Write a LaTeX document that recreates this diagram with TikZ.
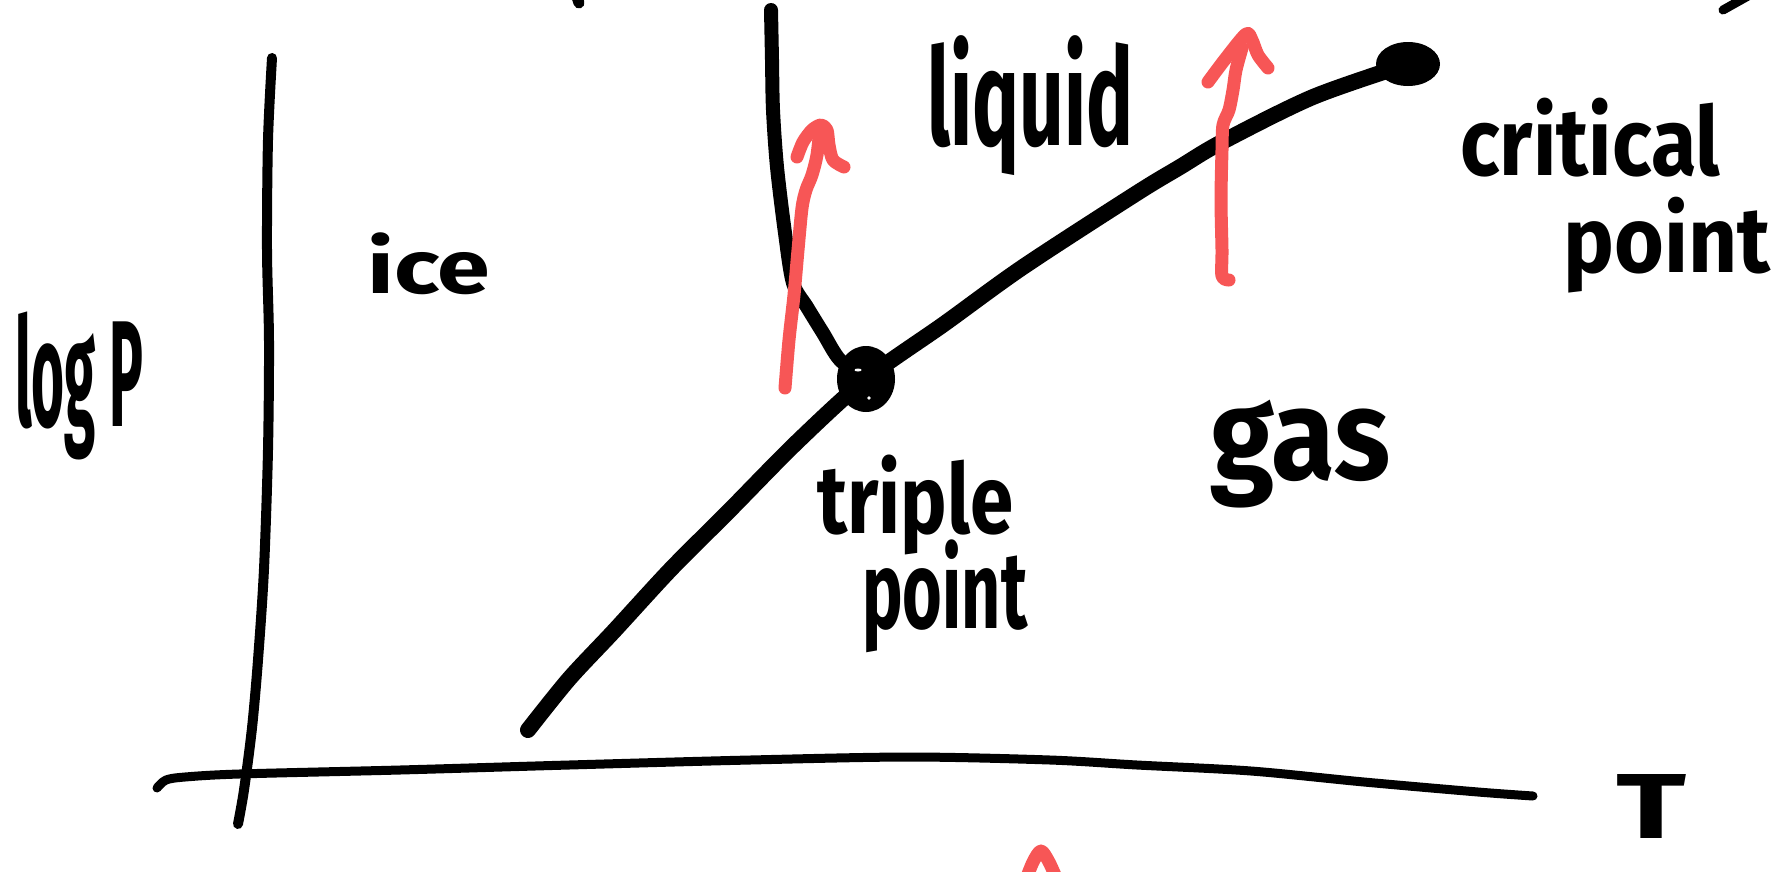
\documentclass[tikz,border=0pt]{standalone}
\usepackage{fontspec}
\setmainfont{Fira Sans}
\usetikzlibrary{shapes.geometric}
\definecolor{redpen}{RGB}{247,86,86}
\tikzset{
  pen/.style={line cap=round, line join=round},
  ink/.style={pen, draw=black, line width=#1},
  redarrow/.style={pen, draw=redpen, line width=13pt},
  hwlabel/.style={inner sep=0pt, anchor=north west, font=\bfseries},
  blob/.style={ellipse, fill=black, inner sep=0pt},
}
\newcommand{\hw}[3]{\resizebox*{#1pt}{#2pt}{#3}}
\begin{document}
\begin{tikzpicture}[x=1pt,y=-1pt]
\fill[white] (0,0) rectangle (1783,871);
\useasboundingbox (0,0) rectangle (1783,871);

% key points
\coordinate (tpc) at (866,379);
\coordinate (cpc) at (1408,64);
\coordinate (sublstart) at (528,730);
\coordinate (fusiontop) at (771,10);

% axes
\draw[ink=10pt] plot[smooth] coordinates {(272,58) (268,140) (267,250) (269,341) (268,450) (264,569) (258,660) (252,728) (244,790) (238,824)};
\draw[ink=9pt] plot[smooth] coordinates {(157,788) (166,780) (185,777) (239,774) (400,770) (569,765) (750,760) (910,757) (1050,760) (1137,765) (1251,771) (1364,782) (1478,792) (1533,796)};

% coexistence curves
\draw[ink=16pt] plot[smooth] coordinates {(sublstart) (569,679) (614,631) (671,569) (728,512) (796,443) (tpc) (944,324) (1023,267) (1137,193) (1180,167) (1222,142) (1313,97) (cpc)};
\draw[ink=14pt] plot[smooth] coordinates {(fusiontop) (772,60) (773,110) (777,167) (785,233) (793,283) (807,307) (823,333) (840,360) (tpc)};

% red arrows
\draw[redarrow] plot[smooth] coordinates {(785,388) (789,340) (794,295) (798,250) (802,208) (806,190) (812,175) (817,155) (820,128)};
\draw[redarrow] plot[smooth] coordinates {(797,157) (803,142) (812,130) (821,125) (827,130) (829,145) (833,160) (844,167)};
\draw[redarrow] plot[smooth] coordinates {(1229,280) (1222,276) (1222,250) (1221,200) (1222,150) (1223,125) (1229,110) (1233,90) (1236,70) (1242,48)};
\draw[redarrow] plot[smooth] coordinates {(1208,82) (1226,58) (1246,34) (1252,40) (1258,55) (1268,68)};
\draw[redarrow] plot[smooth] coordinates {(1025,882) (1033,862) (1041,851) (1049,862) (1058,882)};

% partial marks at the top edge
\draw[ink=11pt] (576,-6) -- (579,3);
\draw[ink=9pt] (1748,-4) -- (1723,10);

% points
\node[blob, minimum width=58pt, minimum height=66pt] (tp) at (tpc) {};
\fill[white] (858,370) ellipse (3.5pt and 1.5pt);
\fill[white] (869,398) ellipse (1.8pt and 1.8pt);
\node[blob, minimum width=64pt, minimum height=44pt] (cp) at (cpc) {};

% labels
\node[hwlabel] (logP) at (15,312) {\hw{128}{148}{log P}};
\node[hwlabel] (ice) at (367,233) {\hw{123}{62}{ice}};
\node[hwlabel] (liquid) at (927,35) {\hw{206}{140}{liquid}};
\node[hwlabel] (triple) at (817,455) {\hw{196}{100}{triple}};
\node[hwlabel] (tpoint) at (862,540) {\hw{165}{113}{point}};
\node[hwlabel] (gas) at (1210,400) {\hw{180}{108}{gas}};
\node[hwlabel] (critical) at (1460,98) {\hw{260}{79}{critical}};
\node[hwlabel] (cpoint) at (1563,197) {\hw{207}{96}{point}};
\node[hwlabel] (T) at (1616,774) {\hw{70}{64}{T}};
\end{tikzpicture}
\end{document}
